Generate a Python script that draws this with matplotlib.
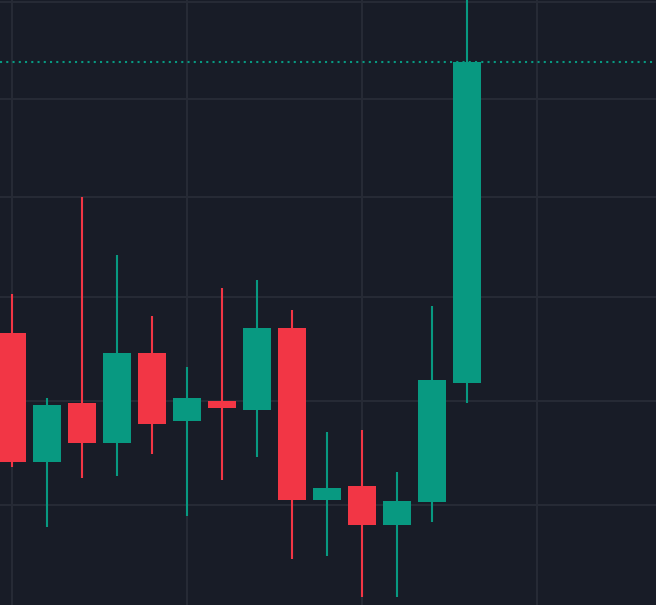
import numpy as np
import matplotlib.pyplot as plt

# candle data
opens = [96.7, 83.8, 89.7, 85.7, 94.7, 87.9, 89.9, 89.0, 97.2, 80.0, 81.4, 77.5, 79.8, 91.7]
highs = [100.6, 90.2, 110.3, 104.5, 98.4, 93.3, 101.2, 102.0, 99.0, 86.8, 87.0, 82.8, 99.4, 132.0]
lows = [83.3, 77.3, 82.2, 82.4, 84.6, 78.4, 82.0, 84.3, 74.1, 74.4, 70.3, 70.3, 77.8, 89.7]
closes = [83.8, 89.5, 85.7, 94.7, 87.6, 90.2, 89.2, 97.2, 80.0, 81.2, 77.5, 79.9, 92.0, 123.8]
price_grid = [129.8, 120.1, 110.3, 100.3, 89.9, 79.5]
time_grid = [0, 5, 10, 15]

bg = '#181c27'
grid_col = '#262a35'
up_col = '#089981'
down_col = '#f23645'

o = np.array(opens)
c = np.array(closes)
h = np.array(highs)
l = np.array(lows)
x = np.arange(len(o))
colors = np.where(c >= o, up_col, down_col)

fig = plt.figure(figsize=(6.56, 6.05), dpi=100)
fig.patch.set_facecolor(bg)
ax = fig.add_axes([0, 0, 1, 1])
ax.set_facecolor(bg)

for y in price_grid:
    ax.axhline(y, color=grid_col, linewidth=1.5, zorder=0)
for t in time_grid:
    ax.axvline(t, color=grid_col, linewidth=1.5, zorder=0)

ax.vlines(x, l, h, colors=colors, linewidth=1.5, zorder=2)
ax.bar(x, np.abs(c - o), bottom=np.minimum(o, c), width=0.8, color=colors, zorder=3)

# last price line
ax.axhline(c[-1], color=up_col, linewidth=1.5, linestyle=(0, (1, 2)),
           dash_capstyle='butt', zorder=1)

ax.set_xlim(-12 / 35, 644 / 35)
ax.set_ylim(130 - 60.5, 130)
ax.axis('off')

fig.savefig('out.png', facecolor=bg)
